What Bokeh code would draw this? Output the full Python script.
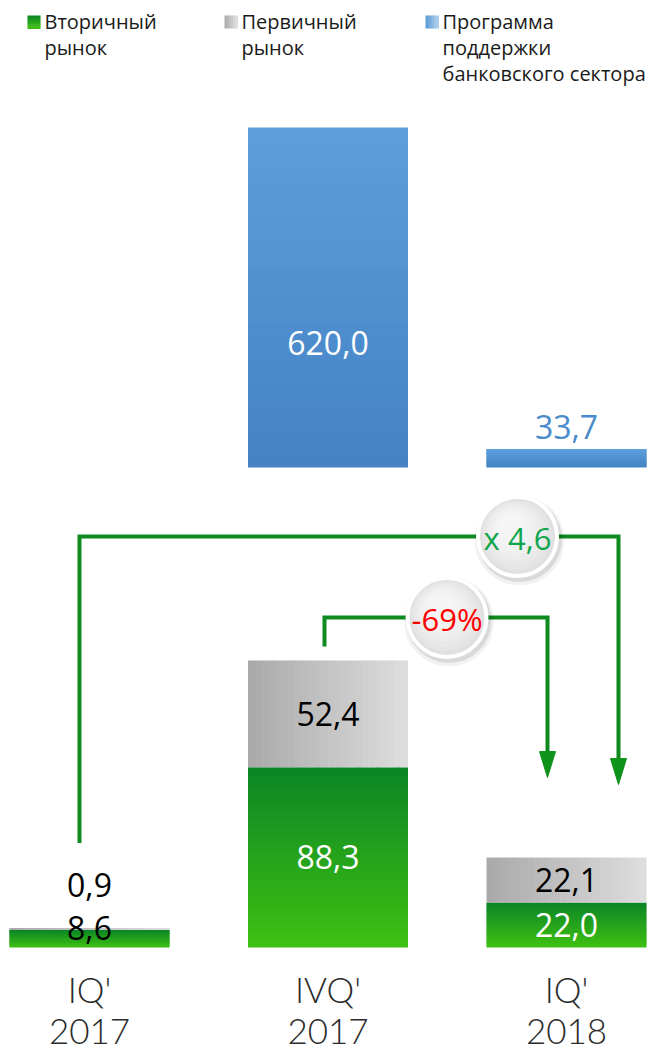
from bokeh.plotting import figure
from bokeh.models import Range1d
from bokeh.core.properties import value
from bokeh.embed import file_html
from bokeh.resources import INLINE

# ---------------- data ----------------
period_line1 = ["IQ'", "IVQ'", "IQ'"]
period_line2 = ["2017", "2017", "2018"]
secondary_market = [8.6, 88.3, 22.0]      # Вторичный рынок
primary_market = [0.9, 52.4, 22.1]        # Первичный рынок
support_program = [None, 620.0, 33.7]     # Программа поддержки банковского сектора
change_labels = ["x 4,6", "-69%"]
legend_green = ["Вторичный", "рынок"]
legend_gray = ["Первичный", "рынок"]
legend_blue = ["Программа", "поддержки", "банковского сектора"]

# ---------------- layout (pixels) ----------------
W, H = 657, 1053
CAT_PX = 238.5          # distance between category centres
FIRST_CENTER_PX = 89
BAR_PX = 160
S_BOT = 2.04            # px per unit, lower panel
BASE_BOT = 947          # baseline of lower panel (px from top)
S_TOP = 340 / 620.0     # px per unit, upper panel
BASE_TOP = 467

X_START = -FIRST_CENTER_PX / CAT_PX
X_END = X_START + W / CAT_PX
Y_START = -(H - BASE_BOT) / S_BOT
Y_END = Y_START + H / S_BOT
T_START = -(H - BASE_TOP) / S_TOP
T_END = T_START + H / S_TOP
BW = BAR_PX / CAT_PX


def dx(px):
    return X_START + px / CAT_PX


def dy(py):
    return Y_START + (H - py) / S_BOT


def cx_px(i):
    return FIRST_CENTER_PX + i * CAT_PX


def py_of(v):
    return BASE_BOT - v * S_BOT


def hex2rgb(h):
    return tuple(int(h[i:i + 2], 16) for i in (1, 3, 5))


def mix(c1, c2, t):
    a, b = hex2rgb(c1), hex2rgb(c2)
    return "#%02x%02x%02x" % tuple(int(round(x + (y - x) * t)) for x, y in zip(a, b))


def fmt(v):
    return ("%.1f" % v).replace(".", ",")


p = figure(width=W, height=H, x_range=Range1d(X_START, X_END),
           y_range=Range1d(Y_START, Y_END), output_backend="svg",
           toolbar_location=None, x_axis_location=None, y_axis_location=None,
           min_border=0, outline_line_color=None)
p.extra_y_ranges = {"top": Range1d(T_START, T_END)}
p.xgrid.visible = False
p.ygrid.visible = False
p.background_fill_color = "white"
p.border_fill_color = "white"

GREEN_TOP, GREEN_BOT = "#0a8526", "#40c112"
GRAY_L, GRAY_R = "#a9a9a9", "#dedede"
BLUE_BOT, BLUE_TOP = "#4482c3", "#5d9fdc"
LINE_GREEN = "#0e8a1e"
FONT = value("Open Sans")

# ---------- quads with gradient strips (overlapping, no seams) ----------
L, R, B, T, C = [], [], [], [], []
TL, TR, TB, TT, TC = [], [], [], [], []
N = 24
OV_B = 0.8 / S_BOT
OV_T = 0.8 / S_TOP
OV_X = 0.8 / CAT_PX
for i in range(3):
    c = i
    g = secondary_market[i]
    pr = primary_market[i]
    # green: vertical gradient
    for k in range(N):
        L.append(c - BW / 2); R.append(c + BW / 2)
        B.append(g * k / N)
        T.append(min(g, g * (k + 1) / N + OV_B))
        C.append(mix(GREEN_BOT, GREEN_TOP, (k + 0.5) / N))
    # gray: horizontal gradient
    for k in range(N):
        L.append(c - BW / 2 + BW * k / N)
        R.append(min(c + BW / 2, c - BW / 2 + BW * (k + 1) / N + OV_X))
        B.append(g); T.append(g + pr)
        C.append(mix(GRAY_L, GRAY_R, (k + 0.5) / N))
    s = support_program[i]
    if s:
        for k in range(N):
            TL.append(c - BW / 2); TR.append(c + BW / 2)
            TB.append(s * k / N)
            TT.append(min(s, s * (k + 1) / N + OV_T))
            TC.append(mix(BLUE_BOT, BLUE_TOP, (k + 0.5) / N))

p.quad(left=L, right=R, bottom=B, top=T, fill_color=C, line_color=None)
p.quad(left=TL, right=TR, bottom=TB, top=TT, fill_color=TC, line_color=None,
       y_range_name="top")

# ---------- value labels ----------
lx, ly, lt, lc = [], [], [], []
for i in range(3):
    g, pr = secondary_market[i], primary_market[i]
    top = g + pr
    if g * S_BOT > 30:
        lx.append(i); ly.append(g / 2); lt.append(fmt(g)); lc.append("white")
    else:
        lx.append(i); ly.append(top); lt.append(fmt(g)); lc.append("black")
    if pr * S_BOT > 30:
        lx.append(i); ly.append(g + pr / 2); lt.append(fmt(pr)); lc.append("black")
    else:
        lx.append(i); ly.append(top + 43 / S_BOT); lt.append(fmt(pr)); lc.append("black")
p.text(x=lx, y=ly, text=lt, text_color=lc, text_font=FONT, text_font_size="32px",
       text_align="center", text_baseline="middle")

bx, by, bt, bc = [], [], [], []
for i in range(3):
    s = support_program[i]
    if not s:
        continue
    if s * S_TOP > 60:
        bx.append(i); by.append(s * 0.365); bt.append(fmt(s)); bc.append("white")
    else:
        bx.append(i); by.append(s + 22 / S_TOP); bt.append(fmt(s)); bc.append("#4a8bcb")
p.text(x=bx, y=by, text=bt, text_color=bc, text_font=FONT, text_font_size="32px",
       text_align="center", text_baseline="middle", y_range_name="top")

# ---------- brackets with arrows ----------
top0 = py_of(secondary_market[0] + primary_market[0])
top1 = py_of(secondary_market[1] + primary_market[1])
top2 = py_of(secondary_market[2] + primary_market[2])
LEVEL1, LEVEL2 = 536, 617
x1a, x1b = cx_px(0) - 10, cx_px(2) + 52
x2a, x2b = cx_px(1) - 3.5, cx_px(2) - 19
tip1, tip2 = top2 - 73, top2 - 80
HEAD_H, HEAD_W = 26, 16

for xa, ya, lev, xb, tip in [(x1a, top0 - 85, LEVEL1, x1b, tip1),
                             (x2a, top1 - 14, LEVEL2, x2b, tip2)]:
    p.line([dx(xa), dx(xa), dx(xb), dx(xb)],
           [dy(ya), dy(lev), dy(lev), dy(tip - HEAD_H + 3)],
           line_color=LINE_GREEN, line_width=4, line_join="miter")
    p.patch([dx(xb - HEAD_W / 2), dx(xb + HEAD_W / 2), dx(xb)],
            [dy(tip - HEAD_H), dy(tip - HEAD_H), dy(tip)],
            fill_color="#0f921a", line_color="#0f921a", line_width=1)

# ---------- circles ----------
circ = [(517, LEVEL1, change_labels[0], "#10a64c"),
        (446.5, LEVEL2, change_labels[1], "#ff0000")]
for cxp, cyp, lab, col in circ:
    p.scatter([dx(cxp + 2)], [dy(cyp + 4)], size=90, marker="circle",
              fill_color="black", fill_alpha=0.05, line_color=None)
    p.scatter([dx(cxp + 2)], [dy(cyp + 3)], size=85, marker="circle",
              fill_color="black", fill_alpha=0.10, line_color=None)
    p.scatter([dx(cxp)], [dy(cyp)], size=79, marker="circle",
              fill_color="#e0e0e0", line_color="white", line_width=4)
    for k in range(1, 8):
        p.scatter([dx(cxp - k * 0.9)], [dy(cyp - k * 1.3)], size=77 - k * 7,
                  marker="circle", fill_color="white", fill_alpha=0.16, line_color=None)
    p.text([dx(cxp)], [dy(cyp + 1)], text=[lab], text_color=col, text_font=FONT,
           text_font_size="31px", text_align="center", text_baseline="middle")

# ---------- category labels ----------
p.text(x=[0, 1, 2], y=[dy(988)] * 3, text=period_line1, text_color="#2b2b2b",
       text_font=value("Lato Light"), text_font_size="35px", text_align="center",
       text_baseline="middle")
p.text(x=[0, 1, 2], y=[dy(1031)] * 3, text=period_line2, text_color="#2b2b2b",
       text_font=value("Lato Light"), text_font_size="35px", text_align="center",
       text_baseline="middle")

# ---------- legend ----------
leg = [(27, legend_green, "#0a8526", "#40c112", "v"),
       (224, legend_gray, "#a9a9a9", "#e2e2e2", "h"),
       (425, legend_blue, "#5b9bd5", "#b3d0ee", "h")]
SQ = 13
for x0, lines, c1, c2, d in leg:
    n = 6
    for k in range(n):
        col = mix(c1, c2, (k + 0.5) / n)
        if d == "v":
            p.quad(left=[dx(x0)], right=[dx(x0 + SQ)], top=[dy(15 + SQ * k / n)],
                   bottom=[dy(15 + SQ * (k + 1) / n + 0.5)], fill_color=col, line_color=None)
        else:
            p.quad(left=[dx(x0 + SQ * k / n)], right=[dx(x0 + SQ * (k + 1) / n + 0.5)],
                   top=[dy(15)], bottom=[dy(15 + SQ)], fill_color=col, line_color=None)
    p.text(x=[dx(x0 + SQ + 4)] * len(lines), y=[dy(21 + 26 * j) for j in range(len(lines))],
           text=lines, text_color="#1a1a1a", text_font=FONT, text_font_size="20px",
           text_align="left", text_baseline="middle")

open("out.html", "w").write(file_html(p, INLINE))
